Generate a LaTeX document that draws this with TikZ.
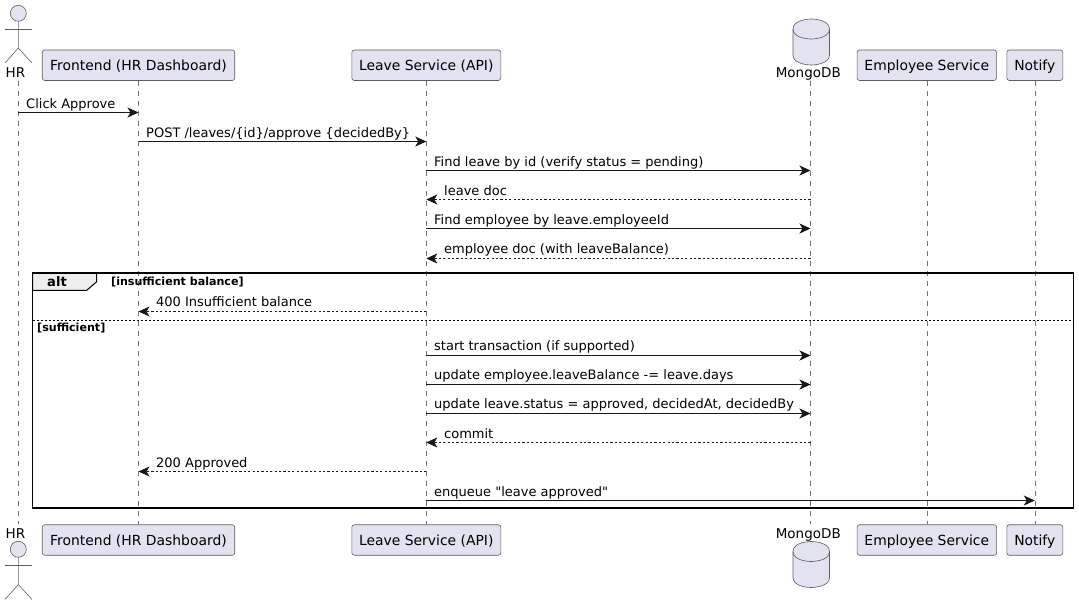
\documentclass[tikz,border=0pt]{standalone}
\usepackage{fontspec}
\setmainfont{DejaVu Sans}[Ligatures=TeXOff]
\usetikzlibrary{arrows.meta}
\definecolor{partfill}{HTML}{E2E2F0}
\definecolor{partline}{HTML}{181818}
\definecolor{tabfill}{HTML}{EEEEEE}
\tikzset{
  partbox/.style={draw=partline!70,fill=partfill,line width=0.6pt,rounded corners=2.5pt,minimum height=30.5pt,inner sep=0pt,text height=13pt,text depth=3pt,font=\fontsize{13.9}{16}\selectfont},
  actorline/.style={draw=partline!70,line width=0.6pt},
  namelabel/.style={inner sep=0pt,anchor=base,font=\fontsize{13.5}{15}\selectfont},
  lifeline/.style={draw=partline!60,line width=0.5pt,dash pattern=on 5pt off 5pt},
  syncmsg/.style={draw=partline,line width=0.9pt,-{Stealth[length=11pt,width=10pt,inset=3pt]}},
  replymsg/.style={draw=partline,line width=0.6pt,dash pattern=on 2.2pt off 2.2pt,-{Stealth[length=11pt,width=10pt,inset=3pt]}},
  msglabel/.style={inner sep=0pt,anchor=base west,yshift=-0.8pt,font=\fontsize{13}{15}\selectfont},
  guardlabel/.style={inner sep=0pt,anchor=base west,yshift=-0.5pt,font=\fontsize{11.1}{13}\bfseries\selectfont},
  dbcan/.pic={
    \draw[actorline,fill=partfill] (0,10) .. controls (0,0) and (18.25,0) .. (18.25,0) .. controls (18.25,0) and (36.5,0) .. (36.5,10) -- (36.5,36) .. controls (36.5,46) and (18.25,46) .. (18.25,46) .. controls (18.25,46) and (0,46) .. (0,36) -- cycle;
    \draw[actorline] (0,10) .. controls (0,20) and (18.25,20) .. (18.25,20) .. controls (18.25,20) and (36.5,20) .. (36.5,10);
  }
}
\begin{document}
\begin{tikzpicture}[x=1pt,y=-1pt]
\useasboundingbox (0,0) rectangle (1079,605);
% lifeline ends
\coordinate (hrtop) at (18.3,81);
\coordinate (hrbot) at (18.3,524);
\coordinate (dbtop) at (810.5,81);
\coordinate (dbbot) at (810.5,524);
% participants, top row
\node[partbox,minimum width=192.5pt] (fetop) at (138.5,65.2) {Frontend (HR Dashboard)};
\node[partbox,minimum width=149pt] (lvtop) at (426.3,65.2) {Leave Service (API)};
\node[partbox,minimum width=139.5pt] (emtop) at (926.8,65.2) {Employee Service};
\node[partbox,minimum width=56pt] (nttop) at (1034.8,65.2) {Notify};
% participants, bottom row
\node[partbox,minimum width=192.5pt] (febot) at (138.5,540) {Frontend (HR Dashboard)};
\node[partbox,minimum width=149pt] (lvbot) at (426.3,540) {Leave Service (API)};
\node[partbox,minimum width=139.5pt] (embot) at (926.8,540) {Employee Service};
\node[partbox,minimum width=56pt] (ntbot) at (1034.8,540) {Notify};
% lifelines
\draw[lifeline] (hrtop) -- (hrbot);
\draw[lifeline] (fetop.south) -- (febot.north);
\draw[lifeline] (lvtop.south) -- (lvbot.north);
\draw[lifeline] (dbtop) -- (dbbot);
\draw[lifeline] (emtop.south) -- (embot.north);
\draw[lifeline] (nttop.south) -- (ntbot.north);
% actor, top
\node[circle,actorline,fill=partfill,minimum size=16pt,inner sep=0pt] (hrhead) at (18.3,13.3) {};
\draw[actorline] (hrhead.south) -- (18.3,48) -- (5,63);
\draw[actorline] (18.3,48) -- (32,63);
\draw[actorline] (5,29) -- (32,29);
\node[namelabel] (hrname) at (15.5,77.8) {HR};
% actor, bottom
\node[circle,actorline,fill=partfill,minimum size=16pt,inner sep=0pt] (hrfoot) at (18.3,549.3) {};
\draw[actorline] (hrfoot.south) -- (18.3,584.5) -- (5,599.5);
\draw[actorline] (18.3,584.5) -- (32,599.5);
\draw[actorline] (5,565) -- (32,565);
\node[namelabel] (hrnamebot) at (15.5,538.3) {HR};
% database
\pic at (793,19) {dbcan};
\node[namelabel] (dbname) at (808.3,77.8) {MongoDB};
\pic at (793,541.5) {dbcan};
\node[namelabel] (dbnamebot) at (808.3,538.3) {MongoDB};
% message rows
\coordinate (r1) at (0,112.5);
\coordinate (r2) at (0,141.5);
\coordinate (r3) at (0,170.5);
\coordinate (r4) at (0,199.5);
\coordinate (r5) at (0,228.5);
\coordinate (r6) at (0,258.5);
\coordinate (r7) at (0,311.5);
\coordinate (r8) at (0,355.5);
\coordinate (r9) at (0,384.5);
\coordinate (r10) at (0,413.5);
\coordinate (r11) at (0,442.5);
\coordinate (r12) at (0,471.5);
\coordinate (r13) at (0,500.5);
\draw[syncmsg] (hrtop |- r1) -- (fetop |- r1);
\draw[syncmsg] (fetop |- r2) -- (lvtop |- r2);
\draw[syncmsg] (lvtop |- r3) -- (dbtop |- r3);
\draw[replymsg] (dbtop |- r4) -- (lvtop |- r4);
\draw[syncmsg] (lvtop |- r5) -- (dbtop |- r5);
\draw[replymsg] (dbtop |- r6) -- (lvtop |- r6);
\draw[replymsg] (lvtop |- r7) -- (fetop |- r7);
\draw[syncmsg] (lvtop |- r8) -- (dbtop |- r8);
\draw[syncmsg] (lvtop |- r9) -- (dbtop |- r9);
\draw[syncmsg] (lvtop |- r10) -- (dbtop |- r10);
\draw[replymsg] (dbtop |- r11) -- (lvtop |- r11);
\draw[replymsg] (lvtop |- r12) -- (fetop |- r12);
\draw[syncmsg] (lvtop |- r13) -- (nttop |- r13);
% message texts
\node[msglabel] (t1) at (26,107.5) {Click Approve};
\node[msglabel] (t2) at (146,136.5) {POST /leaves/\{id\}/approve \{decidedBy\}};
\node[msglabel] (t3) at (434,165.5) {Find leave by id (verify status = pending)};
\node[msglabel] (t4) at (444,194.5) {leave doc};
\node[msglabel] (t5) at (434,223.5) {Find employee by leave.employeeId};
\node[msglabel] (t6) at (444,252.5) {employee doc (with leaveBalance)};
\node[msglabel] (t7) at (156,306) {400 Insufficient balance};
\node[msglabel] (t8) at (434,350) {start transaction (if supported)};
\node[msglabel] (t9) at (434,379) {update employee.leaveBalance -= leave.days};
\node[msglabel] (t10) at (434,408) {update leave.status = approved, decidedAt, decidedBy};
\node[msglabel] (t11) at (444,437.5) {commit};
\node[msglabel] (t12) at (156,466.5) {200 Approved};
\node[msglabel] (t13) at (434,495.5) {enqueue "leave approved"};
% alt frame
\draw[black,fill=tabfill,line width=1pt] (32.5,273) -- (96.7,273) -- (96.7,281.7) -- (86.7,290.3) -- (32.5,290.3) -- cycle;
\draw[black,line width=1.6pt] (32.5,273) rectangle (1073.5,508);
\draw[black,line width=0.8pt,dash pattern=on 2pt off 2pt] (32.5,320.3) -- (1073.5,320.3);
\node[inner sep=0pt,anchor=base west,font=\fontsize{13.1}{15}\bfseries\selectfont] (altname) at (47,286.5) {alt};
\node[guardlabel] (g1) at (111,284.5) {[insufficient balance]};
\node[guardlabel] (g2) at (37,330.5) {[sufficient]};
\end{tikzpicture}
\end{document}
